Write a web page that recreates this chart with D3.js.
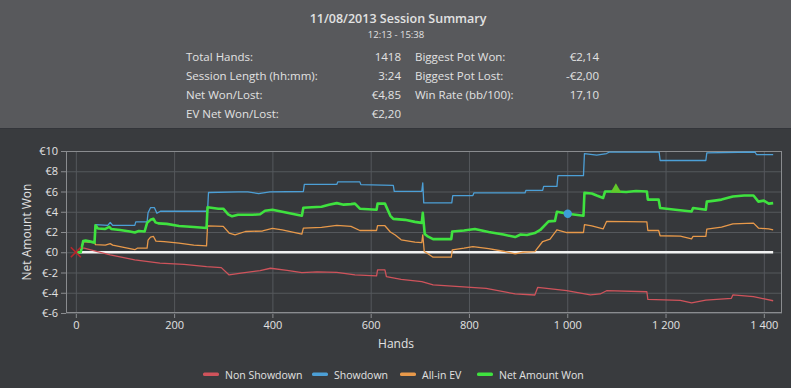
<!DOCTYPE html>
<html>
<head>
<meta charset="utf-8">
<script src="https://cdn.jsdelivr.net/npm/d3@7"></script>
<style>
  body { margin: 0; background: #393b3e; }
  text { font-family: "Open Sans", "Noto Sans", sans-serif; fill: #e2e2e2; }
</style>
</head>
<body>
<div id="container"></div>
<script>
// session summary table
var summaryLeft = [["Total Hands:", "1418"], ["Session Length (hh:mm):", "3:24"], ["Net Won/Lost:", "€4,85"], ["EV Net Won/Lost:", "€2,20"]];
var summaryRight = [["Biggest Pot Won:", "€2,14"], ["Biggest Pot Lost:", "-€2,00"], ["Win Rate (bb/100):", "17,10"]];

var xTicks = [0, 200, 400, 600, 800, 1000, 1200, 1400];
var yTicks = [-6, -4, -2, 0, 2, 4, 6, 8, 10];

// [hand, euros]
var nonShowdown = [[10,0.4],[17,0.4],[40,0.1],[70,-0.26],[120,-0.75],[171,-1.08],[220,-1.2],[266,-1.42],[296,-1.52],[312,-2.24],[336,-2.07],[375,-1.81],[396,-1.58],[430,-1.8],[460,-2.01],[491,-1.94],[531,-1.98],[568,-2.24],[612,-2.34],[614,-1.74],[629,-1.74],[632,-2.41],[662,-2.67],[704,-2.9],[727,-3.23],[781,-3.4],[835,-3.56],[894,-4.12],[934,-4.22],[940,-3.46],[999,-3.8],[1047,-4.22],[1067,-4.12],[1080,-3.8],[1162,-3.9],[1164,-4.65],[1230,-4.75],[1253,-4.99],[1282,-4.72],[1334,-4.55],[1337,-4.22],[1379,-4.39],[1419,-4.79]];

var showdown = [[10,0],[15,1.1],[38,1.0],[40,2.72],[65,2.65],[70,2.95],[75,2.65],[120,2.65],[122,3.0],[145,3.0],[147,3.9],[152,4.4],[160,4.4],[165,3.85],[172,4.05],[268,4.05],[270,5.9],[330,5.96],[350,5.96],[372,5.8],[395,5.96],[463,6.0],[465,6.7],[531,6.7],[533,6.95],[578,6.95],[580,6.68],[646,6.6],[648,6.02],[704,6.02],[706,6.85],[708,4.87],[765,4.87],[767,5.6],[808,5.6],[810,5.86],[914,5.86],[916,6.12],[950,6.12],[952,6.5],[979,6.5],[981,7.57],[1033,7.57],[1035,9.75],[1060,9.6],[1080,9.75],[1085,9.88],[1187,9.88],[1189,9.06],[1282,9.06],[1284,9.82],[1382,9.9],[1385,9.65],[1419,9.65]];

var allinEV = [[10,0],[15,1.05],[38,0.95],[40,0.75],[60,0.7],[70,0.85],[75,0.7],[100,0.45],[115,0.3],[120,0.25],[125,0.4],[145,0.4],[147,1.2],[152,1.5],[158,1.56],[163,1.1],[180,1.05],[210,0.9],[240,0.7],[266,0.63],[268,2.6],[300,2.55],[312,1.9],[324,1.72],[345,2.05],[380,2.1],[400,2.35],[420,2.2],[460,1.79],[463,2.39],[500,2.45],[531,2.65],[560,2.55],[578,2.15],[612,2.15],[614,2.62],[629,2.62],[640,2.0],[650,1.7],[662,1.23],[690,1.0],[704,0.96],[706,1.72],[709,0.07],[715,-0.1],[727,-0.49],[764,-0.49],[766,0.24],[790,0.4],[808,0.56],[840,0.35],[870,0.1],[894,-0.16],[910,0.0],[934,0.07],[950,1.06],[965,1.3],[979,2.22],[999,1.95],[1033,1.95],[1035,2.72],[1050,2.6],[1073,2.3],[1080,3.04],[1162,3.0],[1164,2.15],[1186,2.15],[1189,1.63],[1230,1.6],[1253,1.33],[1256,1.56],[1282,1.56],[1284,2.29],[1314,2.49],[1337,2.81],[1379,2.88],[1389,2.39],[1410,2.3],[1419,2.22]];

var netWon = [[0,0],[10,0],[15,1.1],[20,1.15],[30,1.05],[38,0.95],[40,2.65],[45,2.35],[60,2.3],[68,2.5],[72,2.3],[90,2.2],[110,2.05],[120,1.95],[128,2.1],[140,2.05],[145,2.9],[152,3.2],[158,3.3],[162,2.95],[168,2.85],[185,2.8],[210,2.6],[240,2.5],[266,2.4],[268,4.45],[290,4.3],[300,4.3],[310,3.75],[318,3.55],[330,3.7],[360,3.7],[375,3.75],[385,4.1],[400,4.2],[420,4.0],[440,3.8],[460,3.6],[463,4.4],[480,4.45],[500,4.5],[515,4.7],[531,4.85],[545,4.7],[560,4.75],[568,4.8],[578,4.3],[612,4.2],[614,4.8],[629,4.8],[640,3.6],[646,3.3],[670,3.2],[690,3.0],[704,2.9],[706,3.9],[710,1.8],[715,1.6],[727,1.3],[764,1.3],[766,2.05],[790,2.15],[812,2.3],[840,2.0],[870,1.75],[894,1.5],[905,1.75],[918,1.7],[934,1.9],[945,2.2],[962,3.05],[975,3.1],[979,4.0],[990,3.9],[1001,3.8],[1033,3.6],[1035,5.86],[1050,5.8],[1060,5.6],[1073,5.36],[1077,6.0],[1100,6.0],[1120,5.95],[1140,6.05],[1162,6.0],[1164,5.2],[1186,5.2],[1189,4.37],[1220,4.2],[1253,4.03],[1256,4.37],[1282,4.2],[1284,5.0],[1300,5.1],[1314,5.2],[1337,5.5],[1360,5.6],[1379,5.6],[1389,5.0],[1400,5.1],[1410,4.8],[1419,4.85]];

var seriesNames = ["Non Showdown", "Showdown", "All-in EV", "Net Amount Won"];
var seriesColors = ["#cf535b", "#4c9fd6", "#e8994a", "#3fe23f"];

var width = 791, height = 388;

var svg = d3.select("#container").append("svg")
    .attr("width", width)
    .attr("height", height);

svg.append("rect").attr("width", width).attr("height", 128).attr("fill", "#58595c");
svg.append("rect").attr("y", 128).attr("width", width).attr("height", height - 128).attr("fill", "#393b3e");
svg.append("line").attr("x1", 0).attr("x2", width).attr("y1", 128.5).attr("y2", 128.5).attr("stroke", "#33353a");

// header
svg.append("text").attr("x", 398).attr("y", 23).attr("text-anchor", "middle")
   .style("font-size", "12.5px").style("font-weight", 600).text("11/08/2013 Session Summary");
svg.append("text").attr("x", 396).attr("y", 38).attr("text-anchor", "middle")
   .style("font-size", "9.5px").text("12:13 - 15:38");

summaryLeft.forEach(function(r, i) {
  svg.append("text").attr("x", 186).attr("y", 61 + i * 19).style("font-size", "11.5px").text(r[0]);
  svg.append("text").attr("x", 401).attr("y", 61 + i * 19).attr("text-anchor", "end").style("font-size", "11.5px").text(r[1]);
});
summaryRight.forEach(function(r, i) {
  svg.append("text").attr("x", 415).attr("y", 61 + i * 19).style("font-size", "11.5px").text(r[0]);
  svg.append("text").attr("x", 599).attr("y", 61 + i * 19).attr("text-anchor", "end").style("font-size", "11.5px").text(r[1]);
});

// plot area
var plotLeft = 66, plotTop = 151, plotRight = 782, plotBottom = 313;

var x = d3.scaleLinear().domain([-20, 1437]).range([plotLeft, plotRight]);
var y = d3.scaleLinear().domain([-6, 10]).range([plotBottom, plotTop]);

svg.append("rect").attr("x", plotLeft).attr("y", plotTop).attr("width", plotRight - plotLeft).attr("height", plotBottom - plotTop)
   .attr("fill", "#36383b");

var fmtX = function(d) { return d3.format(",")(d).replace(",", " "); };
var fmtY = function(d) { return "€" + d; };

var gx = svg.append("g").attr("transform", "translate(0," + plotBottom + ")")
  .call(d3.axisBottom(x).tickValues(xTicks).tickFormat(fmtX).tickSize(-(plotBottom - plotTop)).tickPadding(8));
gx.selectAll(".tick line").attr("stroke", "#55585c");
gx.selectAll(".tick").append("line").attr("y2", 5).attr("stroke", "#8a8c8f");

var gy = svg.append("g").attr("transform", "translate(" + plotLeft + ",0)")
  .call(d3.axisLeft(y).tickValues(yTicks).tickFormat(fmtY).tickSize(-(plotRight - plotLeft)).tickPadding(8));
gy.selectAll(".tick line").attr("stroke", "#55585c");
gy.selectAll(".tick").append("line").attr("x2", -5).attr("stroke", "#8a8c8f");

[gx, gy].forEach(function(g) {
  g.select(".domain").remove();
  g.selectAll("text").attr("fill", "#e2e2e2").style("font-size", "11px")
   .style("font-family", "'Open Sans', 'Noto Sans', sans-serif");
});

svg.append("rect").attr("x", plotLeft + 0.5).attr("y", plotTop + 0.5).attr("width", plotRight - plotLeft - 1).attr("height", plotBottom - plotTop - 1)
   .attr("fill", "none").attr("stroke", "#8a8c8f");

// zero line
svg.append("line").attr("x1", x(5)).attr("x2", x(1419)).attr("y1", y(0)).attr("y2", y(0))
   .attr("stroke", "#f2f2f2").attr("stroke-width", 2.5);

var line = d3.line().x(function(d) { return x(d[0]); }).y(function(d) { return y(d[1]); });

[nonShowdown, showdown, allinEV, netWon].forEach(function(s, i) {
  svg.append("path").datum(s).attr("d", line)
     .attr("fill", "none")
     .attr("stroke", seriesColors[i])
     .attr("stroke-width", i === 3 ? 2.6 : 1.3)
     .attr("stroke-linejoin", "round");
});

// markers
var xm = x(0), ym = y(0);
svg.append("path").attr("d", "M" + (xm - 5) + "," + (ym - 5) + "L" + (xm + 5) + "," + (ym + 5) + "M" + (xm + 5) + "," + (ym - 5) + "L" + (xm - 5) + "," + (ym + 5))
   .attr("stroke", "#b8262c").attr("stroke-width", 1.6);
svg.append("circle").attr("cx", x(1001)).attr("cy", y(3.8)).attr("r", 4.2).attr("fill", "#3c9ed6");
svg.append("path").attr("d", d3.symbol().type(d3.symbolTriangle).size(50))
   .attr("transform", "translate(" + x(1099) + "," + (y(6.0) - 2) + ")").attr("fill", "#62c92a");

// axis titles
svg.append("text").attr("x", 396).attr("y", 348).attr("text-anchor", "middle").style("font-size", "12px").text("Hands");
svg.append("text").attr("transform", "translate(31,232) rotate(-90)").attr("text-anchor", "middle")
   .style("font-size", "12px").text("Net Amount Won");

// legend
var legendX = [203, 312, 400, 477];
seriesNames.forEach(function(n, i) {
  svg.append("rect").attr("x", legendX[i]).attr("y", 372.5).attr("width", 16).attr("height", 3.5).attr("rx", 1.5).attr("fill", seriesColors[i]);
  svg.append("text").attr("x", legendX[i] + 22).attr("y", 378.5).style("font-size", "10.5px").text(n);
});
</script>
</body>
</html>
